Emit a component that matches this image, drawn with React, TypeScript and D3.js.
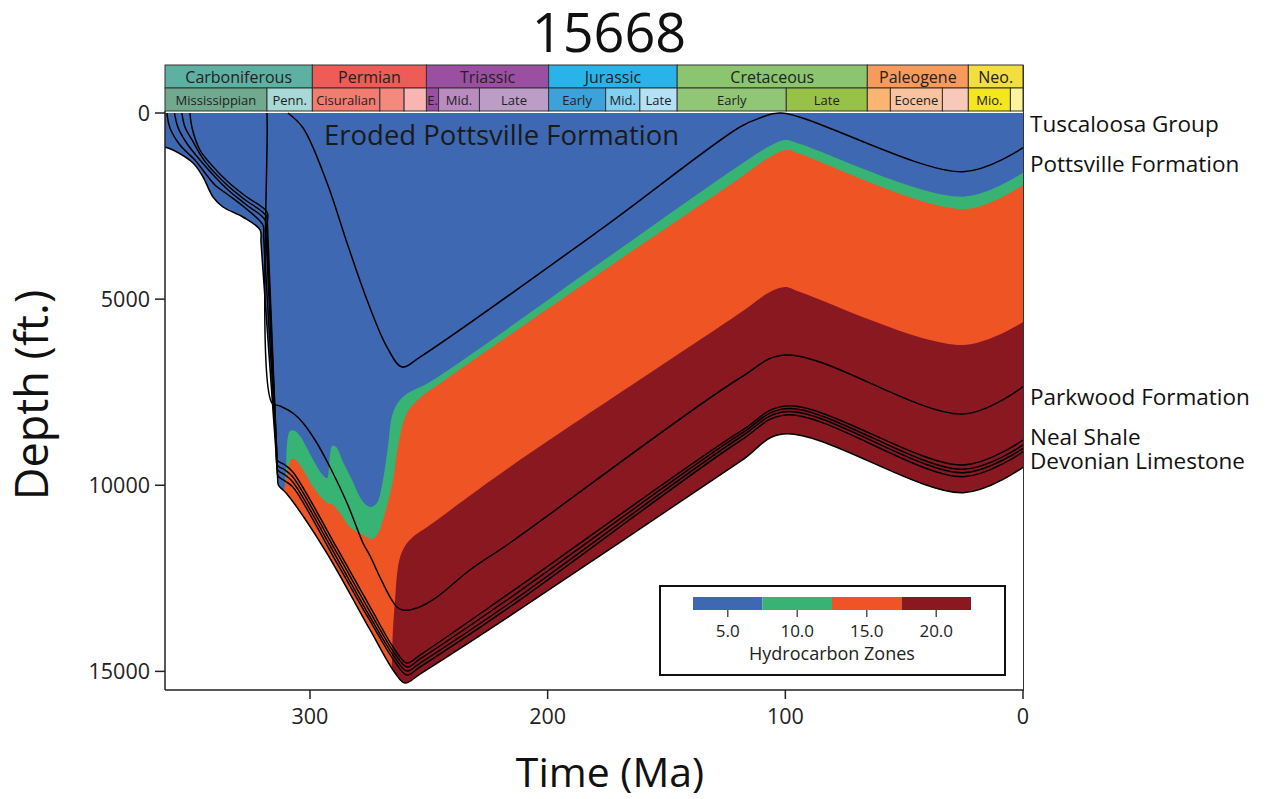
import React from 'react';
import * as d3 from 'd3';

type P = [number, number]; // [age (Ma), depth (ft)]

// ---------- axes ----------
const ageDomain: [number, number] = [361, 0];
const depthDomain: [number, number] = [0, 15500];
const xTicks = [300, 200, 100, 0];
const yTicks = [0, 5000, 10000, 15000];

// ---------- time scale ----------
const periodNames = ['Carboniferous', 'Permian', 'Triassic', 'Jurassic', 'Cretaceous', 'Paleogene', 'Neo.'];
const periodBounds = [361, 299, 251, 199.6, 145.5, 65.5, 23, 0];
const periodColors = ['#5eb1a2', '#ef5b56', '#9b4fa0', '#28b4e8', '#8bc570', '#f89a5c', '#f2df3f'];

const epochNames = ['Mississippian', 'Penn.', 'Cisuralian', '', '', 'E.', 'Mid.', 'Late', 'Early', 'Mid.', 'Late', 'Early', 'Late', '', 'Eocene', '', 'Mio.', ''];
const epochBounds = [361, 318.1, 299, 270.6, 260.4, 251, 245.9, 228.7, 199.6, 175.6, 161.2, 145.5, 99.6, 65.5, 55.8, 33.9, 23, 5.3, 0];
const epochColors = ['#71a98f', '#a9d9d6', '#f27c6f', '#f4897e', '#f8b5b1', '#9b4fa2', '#b98bc1', '#bc9dc8', '#3da1da', '#82d0f1', '#b3e1f6', '#90c675', '#97c247', '#fbb472', '#f9c3a0', '#f8c8bb', '#f4e71e', '#fbf49c'];

// ---------- horizons (burial curves) ----------
const horizonL5: P[] = [[361, 913], [357.6, 994], [349.2, 1343], [345, 1719], [340.8, 2256], [336.6, 2525], [328.2, 2794], [321, 3143], [320.6, 3486], [313.7, 9650], [313.3, 9993], [311.8, 10100], [309.7, 10235], [293.7, 11739], [274.7, 13888], [264.2, 15043], [260, 15313], [253.7, 15071], [215.9, 13512], [119.1, 9367], [101, 8623], [25.2, 10200], [0, 9517]];
const horizonL4: P[] = [[360.2, 0], [358.9, 403], [354.7, 860], [348.4, 1263], [340, 1934], [334.9, 2176], [327.2, 2552], [319.8, 3009], [319.5, 3346], [313.8, 9414], [313.5, 9751], [310.5, 9886], [307.2, 10047], [288.2, 12142], [274.7, 13646], [264.2, 14748], [259.2, 15097], [253.7, 14882], [215.9, 13270], [119.1, 8811], [99.7, 8112], [25.2, 9770], [0, 9098]];
const horizonL3: P[] = [[357, 0], [355.6, 376], [352.2, 779], [346.3, 1263], [334.9, 2042], [327.2, 2445], [318.9, 2874], [318.6, 3210], [313.9, 9254], [313.6, 9590], [310.5, 9724], [307.2, 9912], [288.2, 12008], [274.7, 13539], [264.2, 14640], [259.2, 14989], [253.7, 14775], [215.9, 13163], [119.1, 8717], [99.7, 8024], [25.2, 9663], [0, 9007]];
const horizonL2: P[] = [[353.9, 0], [352.6, 376], [349.6, 725], [344.2, 1300], [334.9, 1934], [327.2, 2337], [318.4, 2767], [318.2, 3100], [314, 9122], [313.8, 9456], [310.5, 9590], [307.2, 9778], [288.2, 11873], [274.7, 13405], [264.2, 14533], [259.2, 14882], [253.7, 14667], [215.9, 13029], [119.1, 8636], [99.7, 7943], [25.2, 9571], [0, 8918]];
const horizonL1: P[] = [[350.5, 0], [349.6, 403], [346.3, 994], [342.2, 1340], [334.9, 1827], [327.2, 2230], [318.1, 2659], [317.9, 2992], [314.1, 8988], [313.9, 9321], [310.5, 9456], [307.2, 9643], [288.2, 11739], [274.7, 13270], [264.2, 14425], [259.2, 14775], [253.7, 14560], [215.9, 12894], [119.1, 8561], [99.7, 7871], [25.2, 9456], [0, 8784]];
const horizonParkwood: P[] = [[318.1, 0], [318, 390], [316, 7790], [312.6, 7871], [307.2, 8059], [302.9, 8328], [297.1, 8865], [291.6, 9510], [284.4, 10477], [277.7, 11551], [274.7, 11900], [270.6, 12464], [266.3, 13002], [263.4, 13270], [260.9, 13351], [255, 13297], [246.6, 13002], [232.7, 12276], [215.9, 11551], [119.1, 7119], [100.1, 6501], [25.2, 8086], [0, 7352]];
const horizonPottsvilleTop: P[] = [[309.3, 0], [302.9, 403], [292.8, 1880], [284.4, 3492], [276, 5023], [267.6, 6286], [261.3, 6823], [253.7, 6555], [178, 3143], [119.1, 376], [110.7, 134], [101.8, 0], [25.2, 1577], [0, 932]];

// ---------- hydrocarbon zone boundaries ----------
const greenTop: P[] = [[311.8, 10933], [310.1, 9590], [309.7, 8919], [308.4, 8542], [306.3, 8542], [304.2, 8677], [301.3, 8999], [297.9, 9402], [295, 9698], [292.8, 9805], [292, 9483], [291.6, 9187], [290.7, 8945], [289, 8972], [286.1, 9375], [282.3, 9859], [279, 10315], [276.4, 10530], [274.3, 10584], [271.8, 10477], [269.3, 9859], [267.2, 8972], [265.1, 8059], [260.9, 7629], [248.2, 7172], [178, 4029], [119.1, 1397], [106.5, 886], [100.1, 725], [93.8, 833], [25.2, 2248], [0, 1604]];
const orangeTop: P[] = [[312.6, 10933], [310.5, 9993], [309.3, 9537], [307.6, 9295], [305.9, 9322], [302.9, 9590], [298.7, 10047], [295, 10342], [292.8, 10477], [290.3, 10530], [287.4, 10745], [283.2, 11121], [277.7, 11336], [274.3, 11444], [271.8, 11336], [269.3, 10933], [265.1, 9859], [263, 8972], [259.2, 8059], [253.7, 7656], [243.2, 7172], [178, 4298], [119.1, 1746], [106.5, 1182], [99.3, 994], [93.8, 1101], [24.4, 2579], [0, 1934]];
const redTop: P[] = [[265.9, 15768], [265.5, 14694], [265.1, 13888], [264.2, 13082], [263.4, 12411], [262.2, 11954], [260, 11632], [256.7, 11390], [249.5, 11068], [215.9, 9510], [119.1, 5373], [106.5, 4808], [100.1, 4674], [93.8, 4808], [25.2, 6232], [0, 5614]];

const zoneColors = ['#3e68b1', '#37b474', '#ef5424', '#8a1820'];

// ---------- legend ----------
const legendBounds = [2.5, 7.5, 12.5, 17.5, 22.5];
const legendTicks = [5, 10, 15, 20];

// ---------- right labels ----------
const formationNames = ['Tuscaloosa Group', 'Pottsville Formation', 'Parkwood Formation', 'Neal Shale', 'Devonian Limestone'];
const formationBaselines = [132, 171.5, 405, 445, 468.5];

const FONT = "'Open Sans', 'DejaVu Sans', sans-serif";

export default function App() {
  const x = d3.scaleLinear().domain(ageDomain).range([165, 1023]);
  const y = d3.scaleLinear().domain(depthDomain).range([113, 690]);
  const curve = d3.curveCatmullRom.alpha(0.5);
  const line = d3.line<P>().x(d => x(d[0])).y(d => y(d[1])).curve(curve);
  const area = d3.area<P>().x(d => x(d[0])).y0(y(0)).y1(d => y(d[1])).curve(curve);
  const bottom = y(17500);
  const fillBelow = (pts: P[]) => {
    const a = pts[0];
    const b = pts[pts.length - 1];
    return `${line(pts)}L${x(b[0])},${bottom}L${x(a[0])},${bottom}Z`;
  };

  const horizons = [horizonL5, horizonL4, horizonL3, horizonL2, horizonL1, horizonParkwood, horizonPottsvilleTop];
  const lx = d3.scaleLinear().domain([2.5, 22.5]).range([693, 971]);

  return (
    <svg width={1268} height={799} style={{ position: 'absolute', left: 0, top: 0, background: '#fff' }} fontFamily={FONT}>
      <defs>
        <clipPath id="sed">
          <path d={area(horizonL5) || ''} />
        </clipPath>
      </defs>

      {/* title */}
      <text x={609} y={52} textAnchor="middle" fontSize={54} fill="#111">15668</text>

      {/* time scale */}
      {periodNames.map((n, i) => {
        const x0 = x(periodBounds[i]);
        const x1 = x(periodBounds[i + 1]);
        return (
          <g key={'p' + i}>
            <rect x={x0} y={65} width={x1 - x0} height={23} fill={periodColors[i]} stroke="#333" strokeWidth={1} />
            <text x={(x0 + x1) / 2} y={82.5} textAnchor="middle" fontSize={16} fill="#222">{n}</text>
          </g>
        );
      })}
      {epochNames.map((n, i) => {
        const x0 = x(epochBounds[i]);
        const x1 = x(epochBounds[i + 1]);
        return (
          <g key={'e' + i}>
            <rect x={x0} y={88} width={x1 - x0} height={23} fill={epochColors[i]} stroke="#333" strokeWidth={1} />
            {n && <text x={(x0 + x1) / 2} y={104.5} textAnchor="middle" fontSize={13} fill="#222">{n}</text>}
          </g>
        );
      })}

      {/* zones */}
      <g clipPath="url(#sed)">
        <rect x={165} y={113} width={858} height={600} fill={zoneColors[0]} />
        <path d={fillBelow(greenTop)} fill={zoneColors[1]} />
        <path d={fillBelow(orangeTop)} fill={zoneColors[2]} />
        <path d={fillBelow(redTop)} fill={zoneColors[3]} />
      </g>

      {/* horizons */}
      {horizons.map((h, i) => (
        <path key={'h' + i} d={line(h) || ''} fill="none" stroke="#000" strokeWidth={1.5} strokeLinejoin="round" />
      ))}

      <text x={324} y={145} fontSize={27.5} fill="#1a1a1a">Eroded Pottsville Formation</text>

      {/* axes */}
      <line x1={165} y1={111} x2={165} y2={690} stroke="#222" strokeWidth={1.5} />
      <line x1={165} y1={690} x2={1024} y2={690} stroke="#222" strokeWidth={1.5} />
      <line x1={1023.5} y1={65} x2={1023.5} y2={690} stroke="#333" strokeWidth={1} />
      {yTicks.map(t => (
        <g key={'yt' + t}>
          <line x1={155} x2={165} y1={y(t)} y2={y(t)} stroke="#222" strokeWidth={1.5} />
          <text x={150} y={y(t)} dy="0.35em" textAnchor="end" fontSize={21.5} fill="#222">{t}</text>
        </g>
      ))}
      {xTicks.map(t => (
        <g key={'xt' + t}>
          <line x1={x(t)} x2={x(t)} y1={690} y2={699} stroke="#222" strokeWidth={1.5} />
          <text x={x(t)} y={724} textAnchor="middle" fontSize={21.5} fill="#222">{t}</text>
        </g>
      ))}
      <text x={610} y={787} textAnchor="middle" fontSize={41} fill="#111">Time (Ma)</text>
      <text transform="translate(48,395) rotate(-90)" textAnchor="middle" fontSize={45} fill="#111">Depth (ft.)</text>

      {/* formation labels */}
      {formationNames.map((n, i) => (
        <text key={'f' + i} x={1030} y={formationBaselines[i]} fontSize={22.5} fill="#111">{n}</text>
      ))}

      {/* legend */}
      <rect x={660} y={586} width={345} height={89} fill="#fff" stroke="#111" strokeWidth={2} />
      {zoneColors.map((c, i) => (
        <rect key={'lg' + i} x={lx(legendBounds[i])} y={597} width={lx(legendBounds[i + 1]) - lx(legendBounds[i])} height={13} fill={c} />
      ))}
      {legendTicks.map(t => (
        <g key={'lt' + t}>
          <line x1={lx(t)} x2={lx(t)} y1={610} y2={617} stroke="#555" strokeWidth={1.5} />
          <text x={lx(t)} y={637} textAnchor="middle" fontSize={17} fill="#222">{t.toFixed(1)}</text>
        </g>
      ))}
      <text x={832} y={660} textAnchor="middle" fontSize={18} fill="#222">Hydrocarbon Zones</text>
    </svg>
  );
}
